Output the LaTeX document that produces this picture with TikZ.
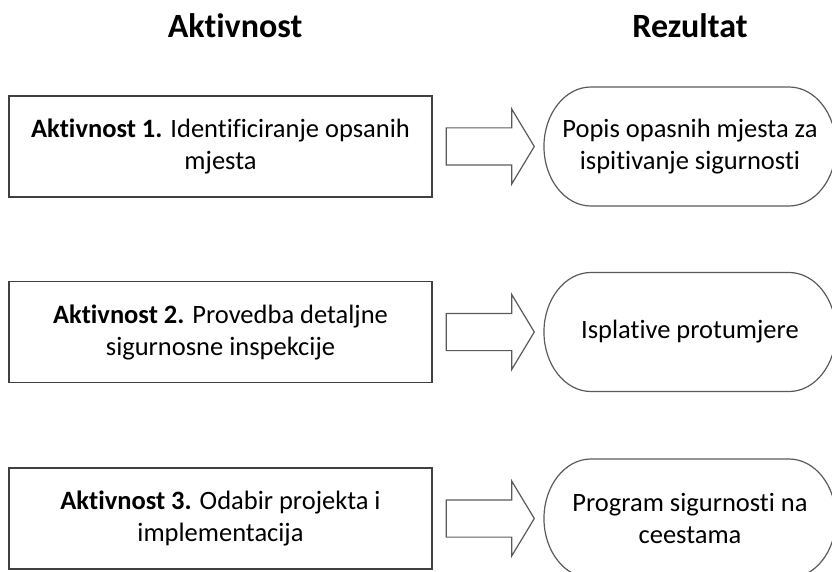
\documentclass[tikz,border=0pt]{standalone}
\usepackage{fontspec}
\setmainfont{Carlito}[Ligatures={NoCommon,NoContextual}]
\usepackage{tikz}
\usetikzlibrary{calc,positioning,shapes.arrows}
\definecolor{rimgray}{HTML}{404040}
\definecolor{arrgray}{HTML}{5A5A5A}

\begin{document}
\begin{tikzpicture}[x = 1pt, y = 1pt,
  hdr/.style={font=\fontsize{34}{40}\selectfont\bfseries, anchor = base},
  akt/.style={draw = rimgray, line width = 1.3pt, minimum width = 423pt, minimum height = 101pt, inner sep = 0pt, align = center, font=\fontsize{26.5}{32}\selectfont},
  blk/.style={single arrow, draw = arrgray, line width = 1.2pt, minimum height = 88pt, inner xsep = 0pt, inner ysep = 18pt, single arrow head extend = 19pt, single arrow tip angle = 118},
  rez/.style={minimum width = 292pt, minimum height = 119pt, inner sep = 0pt, outer sep = 0pt, align = center, font=\fontsize{26.5}{32}\selectfont},
  rim/.style={draw = arrgray, line width = 1.2pt}]
\useasboundingbox (0,0) rectangle (832,-572);
\path (235,-38) node[hdr] (hakt) {Aktivnost};
\path (690,-38) node[hdr] (hrez) {Rezultat};
\node[akt] (a1) at (220.5,-146.5) {\textbf{Aktivnost 1.} Identificiranje opsanih\\mjesta};
\node[akt] (a2) at (220.5,-332) {\textbf{Aktivnost 2.} Provedba detaljne\\sigurnosne inspekcije};
\node[akt] (a3) at (220.5,-518.5) {\textbf{Aktivnost 3.} Odabir projekta i\\implementacija};
\foreach \i in {1, 2, 3}{\node[blk, right = 13pt of a\i] (p\i) {};}
\node[rez, right = 9pt of p1] (r1) {Popis opasnih mjesta za\\ispitivanje sigurnosti};
\node[rez, right = 9pt of p2] (r2) {Isplative protumjere};
\node[rez, right = 9pt of p3] (r3) {Program sigurnosti na\\ceestama};
% terminator outline round each result
\foreach \i in {1, 2, 3}{\draw[rim] ($(r\i.north west)+(47,0)$) -- ($(r\i.north east)+(-47,0)$) arc[start angle = 90, end angle = -90, x radius = 47pt, y radius = 59.5pt] -- ($(r\i.south west)+(47,0)$) arc[start angle = 270, end angle = 90, x radius = 47pt, y radius = 59.5pt] -- cycle;}
\end{tikzpicture}
\end{document}
